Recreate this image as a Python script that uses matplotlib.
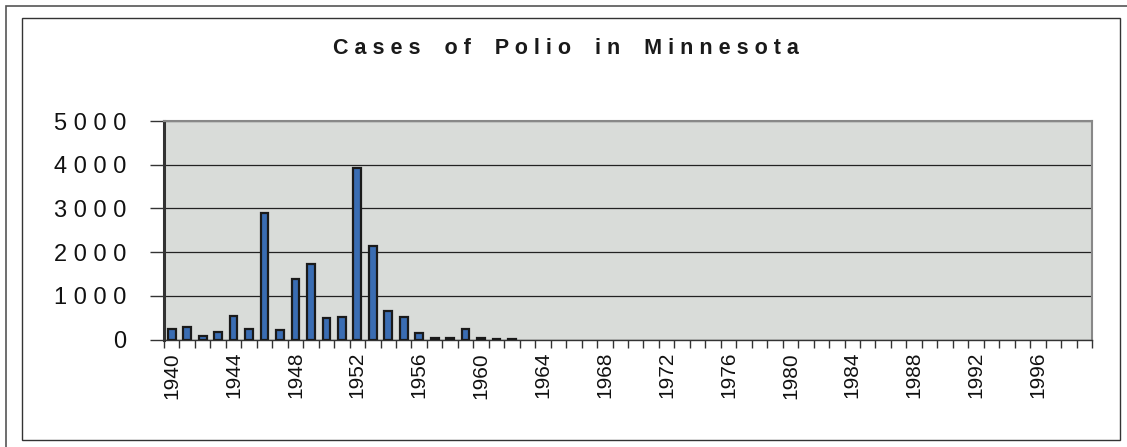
import matplotlib
matplotlib.use('Agg')
import matplotlib.pyplot as plt
from matplotlib.patches import Rectangle
from matplotlib.ticker import FixedLocator, FuncFormatter
import numpy as np

plt.rcParams['font.family'] = ['Liberation Sans', 'DejaVu Sans']

# Polio cases in Minnesota, 1940-1999
years = list(range(1940, 2000))
cases = [245, 282, 69, 168, 527, 236, 2897, 206, 1376, 1720,
         498, 512, 3929, 2140, 642, 505, 145, 30, 30, 245,
         39, 12, 4] + [0] * 37
y_ticks = [0, 1000, 2000, 3000, 4000, 5000]
title = 'Cases of Polio in Minnesota'


def spaced(s):
    return ' '.join(s)


fig = plt.figure(figsize=(11.27, 4.47), dpi=100)
W, H = 1127, 447

# double frame around the chart (outer one runs off the page right/bottom)
fig.patches.append(Rectangle((6 / W, -0.1), 1.2, 1 - 6 / H + 0.1,
                             transform=fig.transFigure, fill=False,
                             edgecolor='#555555', linewidth=1.2))
fig.patches.append(Rectangle((22 / W, 1 - 440 / H), 1098 / W, 422 / H,
                             transform=fig.transFigure, fill=False,
                             edgecolor='#333333', linewidth=1.0))

ax = fig.add_axes([164 / W, 1 - 339.5 / H, 928 / W, 218.5 / H])
ax.set_facecolor('#d9dcd9')

x = np.arange(len(years))
vals = np.array(cases)
nz = vals > 0
ax.bar(x[nz], vals[nz], width=0.5, color='#3a6db3', edgecolor='#1a1a1a',
       linewidth=1.6, zorder=3)

ax.set_xlim(-0.5, len(years) - 0.5)
ax.set_ylim(0, 5000)

ax.set_yticks(y_ticks)
ax.yaxis.set_major_formatter(FuncFormatter(lambda v, p: spaced(f'{int(v)}')))
ax.tick_params(axis='y', length=10, width=1, color='#333333',
               labelsize=17, pad=17, labelcolor='#111111')
ax.grid(axis='y', color='#222222', linewidth=0.9, zorder=1)

label_idx = [i for i, yv in enumerate(years) if (yv - 1940) % 4 == 0]
ax.set_xticks(label_idx)
ax.set_xticklabels([str(years[i]) for i in label_idx], rotation=90,
                   fontsize=15, color='#111111')
ax.tick_params(axis='x', length=0, pad=9)
ax.xaxis.set_minor_locator(FixedLocator(np.arange(-0.5, len(years), 1.0)))
ax.tick_params(axis='x', which='minor', length=6, width=1, color='#333333')

for side in ['top', 'right']:
    ax.spines[side].set_color('#888888')
    ax.spines[side].set_linewidth(1.5)
ax.spines['left'].set_color('#333333')
ax.spines['left'].set_linewidth(2.2)
ax.spines['bottom'].set_color('#333333')
ax.spines['bottom'].set_linewidth(1.0)

fig.text(566 / W, 1 - 49 / H, spaced(title).replace('   ', '    '),
         ha='center', va='center', fontsize=15.5, fontweight='bold',
         color='#1a1a1a')

fig.savefig('out.png', dpi=100, facecolor='white')
